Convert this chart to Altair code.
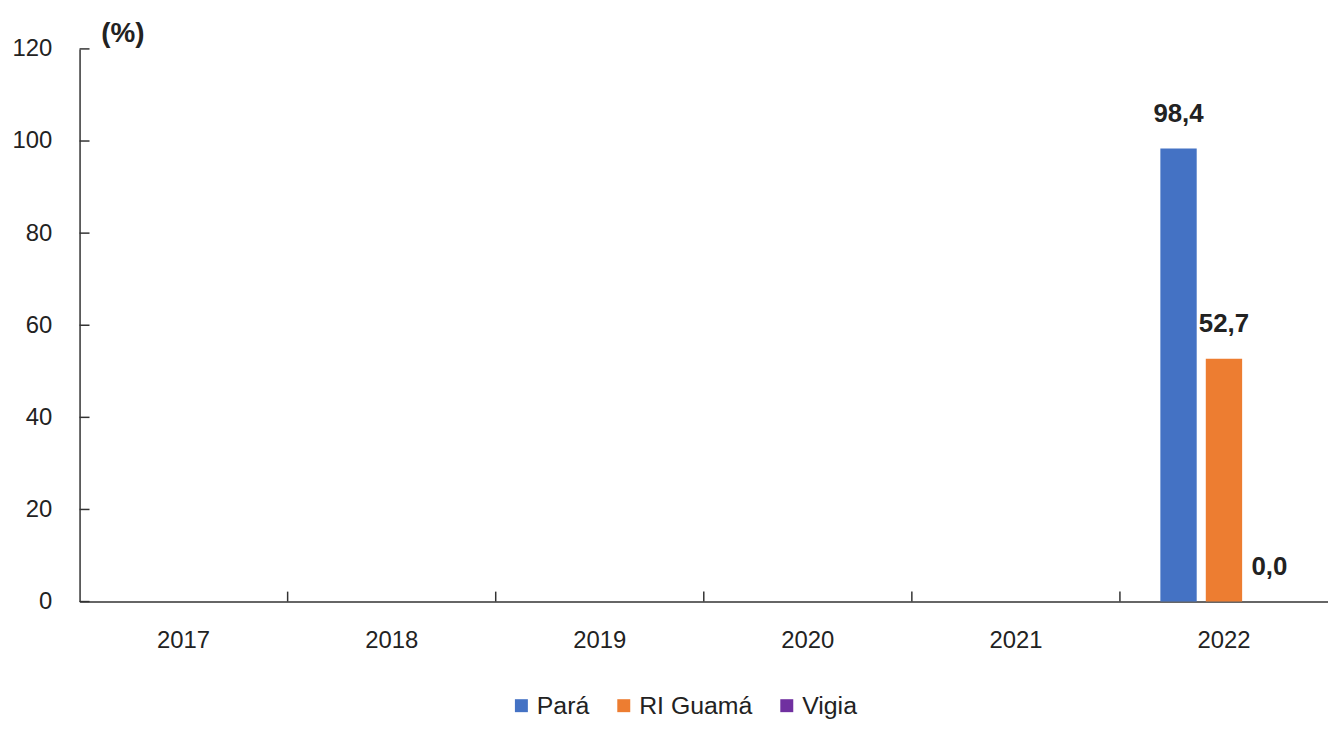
import altair as alt
import pandas as pd

years = ["2017", "2018", "2019", "2020", "2021", "2022"]
series = ["Pará", "RI Guamá", "Vigia"]
colors = ["#4472C4", "#ED7D31", "#7030A0"]
year_2022 = ["2022", "2022", "2022"]
values_2022 = [98.4, 52.7, 0.0]
y_ticks = [0, 20, 40, 60, 80, 100, 120]
inner_ticks = ["2018", "2019", "2020", "2021", "2022"]

bars_df = pd.DataFrame({"year": year_2022, "serie": series, "valor": values_2022})
ytick_df = pd.DataFrame({"v": y_ticks})
xtick_df = pd.DataFrame({"year": inner_ticks})

W, H = 1256, 556
FONT = "Liberation Sans, Arial"

x_scale = alt.Scale(domain=years, paddingInner=0, paddingOuter=0)
y_scale = alt.Scale(domain=[0, 120], nice=False)

base = alt.Chart(bars_df)

bars = base.mark_bar().encode(
    x=alt.X("year:N", scale=x_scale, sort=years,
            axis=alt.Axis(title=None, labelAngle=0, ticks=False, labelPadding=27,
                          labelFont=FONT, labelFontSize=24, labelColor="#222222",
                          domainColor="#333333", domainWidth=1.5, grid=False)),
    xOffset=alt.XOffset("serie:N", sort=series,
                        scale=alt.Scale(domain=series, paddingInner=0.2, paddingOuter=0.89)),
    y=alt.Y("valor:Q", scale=y_scale,
            axis=alt.Axis(values=y_ticks, ticks=False, labelPadding=28, grid=False,
                          labelFont=FONT, labelFontSize=24, labelColor="#222222",
                          domainColor="#333333", domainWidth=1.5,
                          title="(%)", titleAngle=0, titleFont=FONT,
                          titleFontSize=28, titleFontWeight="bold", titleColor="#222222",
                          titleX=43, titleY=-15, titleAlign="center", titleBaseline="middle")),
    color=alt.Color("serie:N", sort=series,
                    scale=alt.Scale(domain=series, range=colors),
                    legend=alt.Legend(title=None, orient="none", direction="horizontal",
                                      legendX=432, legendY=648, symbolType="square",
                                      symbolSize=170, symbolStrokeWidth=0,
                                      labelFont=FONT, labelFontSize=25,
                                      labelColor="#222222", columnPadding=22,
                                      labelOffset=3)),
)

labels = base.mark_text(baseline="bottom", dy=-22, font=FONT,
                        fontSize=26, fontWeight="bold", color="#222222").transform_calculate(
    lab="replace(format(datum.valor, '.1f'), '.', ',')"
).encode(
    x=alt.X("year:N", scale=x_scale, sort=years),
    xOffset=alt.XOffset("serie:N", sort=series),
    y=alt.Y("valor:Q", scale=y_scale),
    text="lab:N",
)

yticks = alt.Chart(ytick_df).mark_rule(color="#333333", strokeWidth=1.5).encode(
    y=alt.Y("v:Q", scale=y_scale),
    x=alt.value(0),
    x2=alt.value(10),
)

xticks = alt.Chart(xtick_df).mark_rule(color="#333333", strokeWidth=1.5).encode(
    x=alt.X("year:N", scale=x_scale, sort=years, bandPosition=0),
    y=alt.value(H),
    y2=alt.value(H - 10),
)

chart = alt.layer(bars, labels, yticks, xticks).properties(
    width=W, height=H,
    autosize=alt.AutoSizeParams(type="none"),
    padding={"left": 72, "top": 39, "right": 0, "bottom": 118},
).configure(background="white").configure_view(stroke=None)

chart.save("out.html", embed_options={"renderer": "svg", "actions": False})
